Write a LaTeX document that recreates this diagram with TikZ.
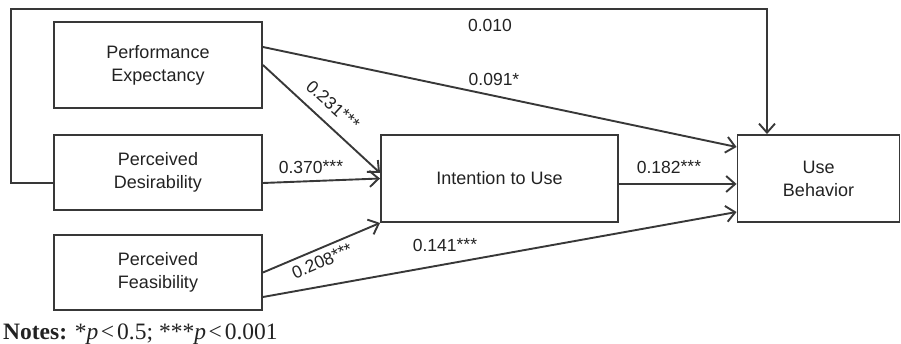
\documentclass[tikz,border=0pt]{standalone}
\usepackage{fontspec}
\setmainfont{Liberation Sans}
\newfontfamily\notesfont{Liberation Serif}
\usetikzlibrary{arrows.meta}
\definecolor{ln}{HTML}{383838}
\definecolor{tx}{HTML}{222222}
\newcommand{\stars}{\raisebox{1pt}{***}}
\tikzset{
  box/.style={draw=ln, line width=1.9pt, inner sep=0pt, align=center, text=tx,
              font=\fontsize{18}{23}\selectfont},
  conn/.style={draw=ln, line width=1.9pt, -{Straight Barb[length=9pt,width=16pt,line width=1.9pt]}},
  lbl/.style={inner sep=0pt, text=tx, font=\fontsize{17.5}{21}\selectfont}
}
\begin{document}
\begin{tikzpicture}[x=1pt,y=-1pt]
\useasboundingbox (0,0) rectangle (901,344);
\node[box, minimum width=208pt, minimum height=86pt] (PE) at (158,65) {Performance\\Expectancy};
\node[box, minimum width=208pt, minimum height=75pt] (PD) at (158,172.5) {Perceived\\Desirability};
\node[box, minimum width=208pt, minimum height=75pt] (PF) at (158,272.5) {Perceived\\Feasibility};
\node[box, minimum width=237pt, minimum height=87pt] (ITU) at (499.5,178.5) {Intention to Use};
\node[box, minimum width=162pt, minimum height=87pt] (UB) at (818.5,178.5) {Use\\Behavior};
\coordinate (fbT) at (11,9);
% connectors
\draw[conn] ([yshift=-10.5pt]PD.west) -| (fbT) -| ([xshift=-51.5pt]UB.north);
\draw[conn] ([yshift=18pt]PE.east) -- ([yshift=31.5pt]UB.west);
\draw[conn] (PE.east) -- ([yshift=5.5pt]ITU.west);
\draw[conn] ([yshift=-10.5pt]PD.east) -- (ITU.west);
\draw[conn] (PF.east) -- (ITU.south west);
\draw[conn] ([yshift=-24.5pt]PF.east) -- ([yshift=-33.5pt]UB.west);
\draw[conn] ([yshift=-5.5pt]ITU.east) -- ([yshift=-5.5pt]UB.west);
% labels
\node[lbl] (l1) at (490,25) {0.010};
\node[lbl] (l2) at (494,79) {0.091*};
\node[lbl, rotate=-42.2] (l3) at (333,105) {0.231\stars};
\node[lbl] (l4) at (311,167) {0.370\stars};
\node[lbl, rotate=23.2] (l5) at (322,261) {0.208\stars};
\node[lbl] (l6) at (445,245) {0.141\stars};
\node[lbl] (l7) at (669,167) {0.182\stars};
\node[anchor=base west, inner sep=0pt, text=tx, font=\notesfont\fontsize{23.5}{26}\selectfont] (notes) at (3,339)
  {\textbf{Notes:} *\textit{p}\kern2.5pt<\kern3pt0.5; ***\textit{p}\kern2.5pt<\kern3pt0.001};
\end{tikzpicture}
\end{document}
